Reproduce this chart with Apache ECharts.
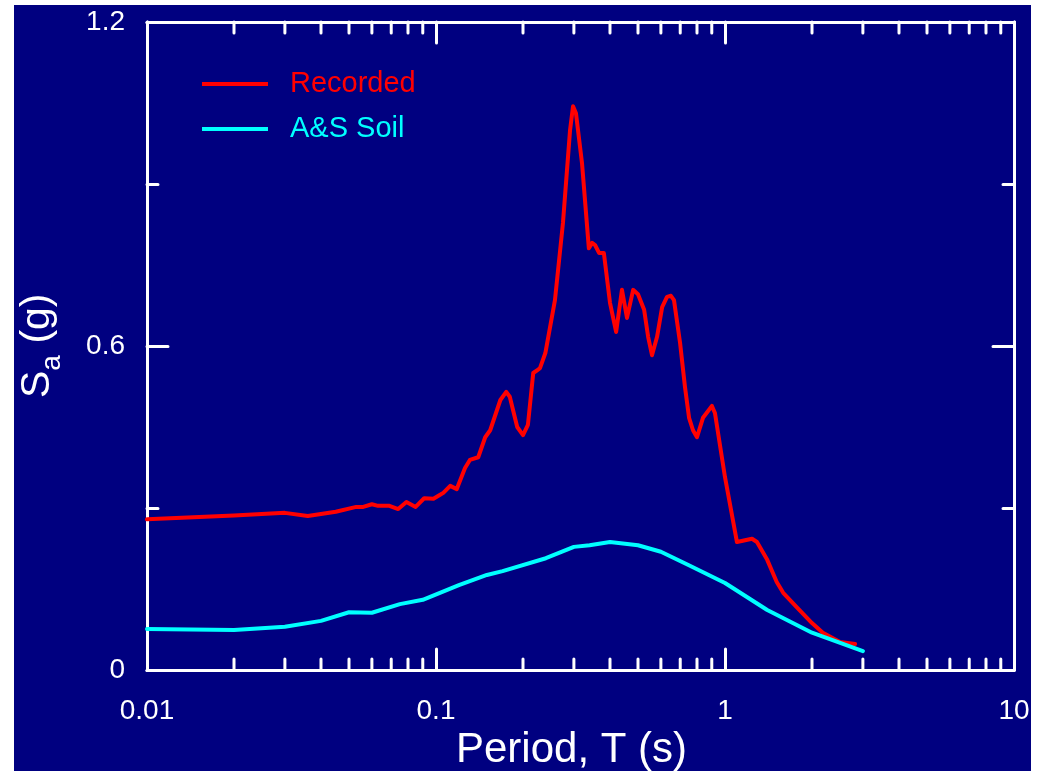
<!DOCTYPE html>
<html>
<head>
<meta charset="utf-8">
<title>Spectral acceleration</title>
<script src="https://cdn.jsdelivr.net/npm/echarts@6.0.0/dist/echarts.min.js"></script>
<style>
  html, body { margin: 0; padding: 0; background: #ffffff; }
  #chart { position: absolute; left: 14px; top: 5px; width: 1017px; height: 766px; background: #000080; }
</style>
</head>
<body>
<div id="chart"></div>
<script>
// Recorded response spectrum: period (s) and spectral acceleration (g)
const recordedPeriod = [0.01, 0.02, 0.03, 0.036, 0.045, 0.053, 0.056, 0.06, 0.063, 0.069, 0.074, 0.079, 0.085, 0.091, 0.098,
  0.103, 0.106, 0.112, 0.118, 0.126, 0.131, 0.14, 0.148, 0.154, 0.167, 0.175, 0.18, 0.191, 0.2, 0.208, 0.217, 0.225,
  0.229, 0.239, 0.258, 0.275, 0.291, 0.298, 0.305, 0.32, 0.338, 0.347, 0.355, 0.367, 0.381, 0.4, 0.42, 0.44, 0.458,
  0.481, 0.5, 0.525, 0.542, 0.559, 0.582, 0.606, 0.63, 0.65, 0.666, 0.699, 0.727, 0.751, 0.775, 0.8, 0.839, 0.901,
  0.923, 1.0, 1.1, 1.24, 1.29, 1.4, 1.51, 1.59, 1.78, 2.0, 2.18, 2.5, 2.82];
const recordedSa = [0.279, 0.286, 0.291, 0.285, 0.293, 0.302, 0.302, 0.307, 0.304, 0.304, 0.298, 0.311, 0.302, 0.318, 0.317,
  0.324, 0.328, 0.341, 0.335, 0.374, 0.389, 0.394, 0.431, 0.444, 0.5, 0.515, 0.506, 0.45, 0.435, 0.454, 0.55, 0.556,
  0.559, 0.587, 0.685, 0.828, 1.0, 1.044, 1.031, 0.939, 0.781, 0.791, 0.787, 0.772, 0.772, 0.68, 0.626, 0.704, 0.652,
  0.704, 0.696, 0.667, 0.617, 0.583, 0.617, 0.672, 0.691, 0.693, 0.685, 0.606, 0.524, 0.467, 0.444, 0.431, 0.467, 0.489,
  0.476, 0.357, 0.237, 0.243, 0.237, 0.204, 0.163, 0.143, 0.115, 0.087, 0.069, 0.052, 0.048];

// Abrahamson & Silva soil-site spectrum
const soilPeriod = [0.01, 0.02, 0.03, 0.04, 0.05, 0.06, 0.075, 0.09, 0.12, 0.15, 0.17, 0.24, 0.3, 0.34, 0.4, 0.5, 0.6,
  0.75, 1.0, 1.4, 2.0, 3.0];
const soilSa = [0.076, 0.074, 0.08, 0.091, 0.107, 0.106, 0.122, 0.13, 0.157, 0.176, 0.183, 0.207, 0.228, 0.231, 0.237,
  0.231, 0.219, 0.194, 0.161, 0.111, 0.069, 0.035];

const seriesNames = ['Recorded', 'A&S Soil'];
const seriesColors = ['#ff0000', '#00ffff'];

// Tick labels
const xTickLabels = ['0.01', '0.1', '1', '10'];   // decades 10^-2 .. 10^1
const yTickLabels = ['0', '0.6', '1.2'];
const xDecades = [0.01, 0.1, 1];
const minorMultipliers = [2, 3, 4, 5, 6, 7, 8, 9];

const FONT = '"Liberation Sans", Arial, Helvetica, sans-serif';
const WHITE = '#ffffff';

const pairs = (xs, ys) => xs.map((x, i) => [x, ys[i]]);

// minor tick positions of the log axis (2..9 within each decade)
const minorTicks = [];
xDecades.forEach(d => minorMultipliers.forEach(m => minorTicks.push([m * d, 0])));

const chart = echarts.init(document.getElementById('chart'), null, { renderer: 'canvas' });

const baseX = {
  type: 'log',
  logBase: 10,
  min: 0.01,
  max: 10,
  axisLine: { show: true, onZero: false, lineStyle: { color: WHITE, width: 3 } },
  axisTick: { show: true, inside: true, length: 21, lineStyle: { color: WHITE, width: 3, cap: 'round' } },
  minorTick: { show: false },
  splitLine: { show: false },
  minorSplitLine: { show: false }
};
const baseY = {
  type: 'value',
  min: 0,
  max: 1.2,
  interval: 0.6,
  axisLine: { show: true, onZero: false, lineStyle: { color: WHITE, width: 3 } },
  axisTick: { show: true, inside: true, length: 21, lineStyle: { color: WHITE, width: 3, cap: 'round' } },
  minorTick: { show: true, splitNumber: 2, length: 11, lineStyle: { color: WHITE, width: 3, cap: 'round' } },
  splitLine: { show: false },
  minorSplitLine: { show: false }
};

const option = {
  backgroundColor: 'transparent',
  animation: false,
  textStyle: { fontFamily: FONT },
  grid: { left: 133, right: 17, top: 17, bottom: 101, containLabel: false, outerBoundsMode: 'none' },
  legend: {
    left: 188,
    top: 64,
    orient: 'vertical',
    padding: 0,
    itemWidth: 66,
    itemHeight: 4,
    itemGap: 15,
    icon: 'rect',
    selectedMode: false,
    textStyle: { fontFamily: FONT, fontSize: 29, lineHeight: 30, padding: [0, 0, 0, 17] },
    data: seriesNames.map((n, i) => ({ name: n, textStyle: { color: seriesColors[i] } }))
  },
  xAxis: [
    Object.assign({}, baseX, {
      position: 'bottom',
      axisLabel: {
        show: true, color: WHITE, fontSize: 28, fontFamily: FONT, margin: 27,
        formatter: v => xTickLabels[Math.round(Math.log10(v)) + 2]
      },
      name: 'Period, T (s)',
      nameLocation: 'middle',
      nameGap: 58,
      nameTextStyle: { color: WHITE, fontSize: 42, fontFamily: FONT, padding: [0, 18, 0, 0] }
    }),
    Object.assign({}, baseX, { position: 'top', axisLabel: { show: false } })
  ],
  yAxis: [
    Object.assign({}, baseY, {
      position: 'left',
      axisLabel: {
        show: true, color: WHITE, fontSize: 28, fontFamily: FONT, margin: 22,
        padding: [9, 0, 0, 0],
        verticalAlign: 'middle',
        verticalAlignMinLabel: 'middle',
        verticalAlignMaxLabel: 'middle',
        formatter: v => yTickLabels[Math.round(v / 0.6)]
      }
    }),
    Object.assign({}, baseY, { position: 'right', axisLabel: { show: false } })
  ],
  graphic: [
    {
      // y-axis title "Sa (g)" with subscript, reading bottom to top
      type: 'group',
      x: 23.5,
      y: 340,
      rotation: Math.PI / 2,
      silent: true,
      children: [
        { type: 'text', x: -53, y: 0, style: { text: 'S', fill: WHITE, font: '41px ' + FONT, align: 'left', verticalAlign: 'middle' } },
        { type: 'text', x: -25.7, y: 14.5, style: { text: 'a', fill: WHITE, font: '28px ' + FONT, align: 'left', verticalAlign: 'middle' } },
        { type: 'text', x: -10, y: 0, style: { text: ' (g)', fill: WHITE, font: '41px ' + FONT, align: 'left', verticalAlign: 'middle' } }
      ]
    }
  ],
  series: [
    {
      name: seriesNames[0],
      type: 'line',
      data: pairs(recordedPeriod, recordedSa),
      showSymbol: false,
      symbol: 'none',
      color: seriesColors[0],
      lineStyle: { color: seriesColors[0], width: 4, join: 'round', cap: 'round' },
      z: 3
    },
    {
      name: seriesNames[1],
      type: 'line',
      data: pairs(soilPeriod, soilSa),
      showSymbol: false,
      symbol: 'none',
      color: seriesColors[1],
      lineStyle: { color: seriesColors[1], width: 4, join: 'round', cap: 'round' },
      z: 4
    },
    {
      // minor ticks of the logarithmic period axis, on the bottom and top frame edges
      name: 'minorTicks',
      type: 'custom',
      data: minorTicks,
      silent: true,
      clip: false,
      z: 5,
      renderItem: (params, api) => {
        const v = api.value(0);
        const b = api.coord([v, 0]);
        const t = api.coord([v, 1.2]);
        const st = { stroke: WHITE, lineWidth: 3, lineCap: 'round' };
        return {
          type: 'group',
          children: [
            { type: 'line', shape: { x1: b[0], y1: b[1], x2: b[0], y2: b[1] - 11 }, style: st },
            { type: 'line', shape: { x1: t[0], y1: t[1], x2: t[0], y2: t[1] + 11 }, style: st }
          ]
        };
      }
    }
  ]
};

chart.setOption(option);
</script>
</body>
</html>
